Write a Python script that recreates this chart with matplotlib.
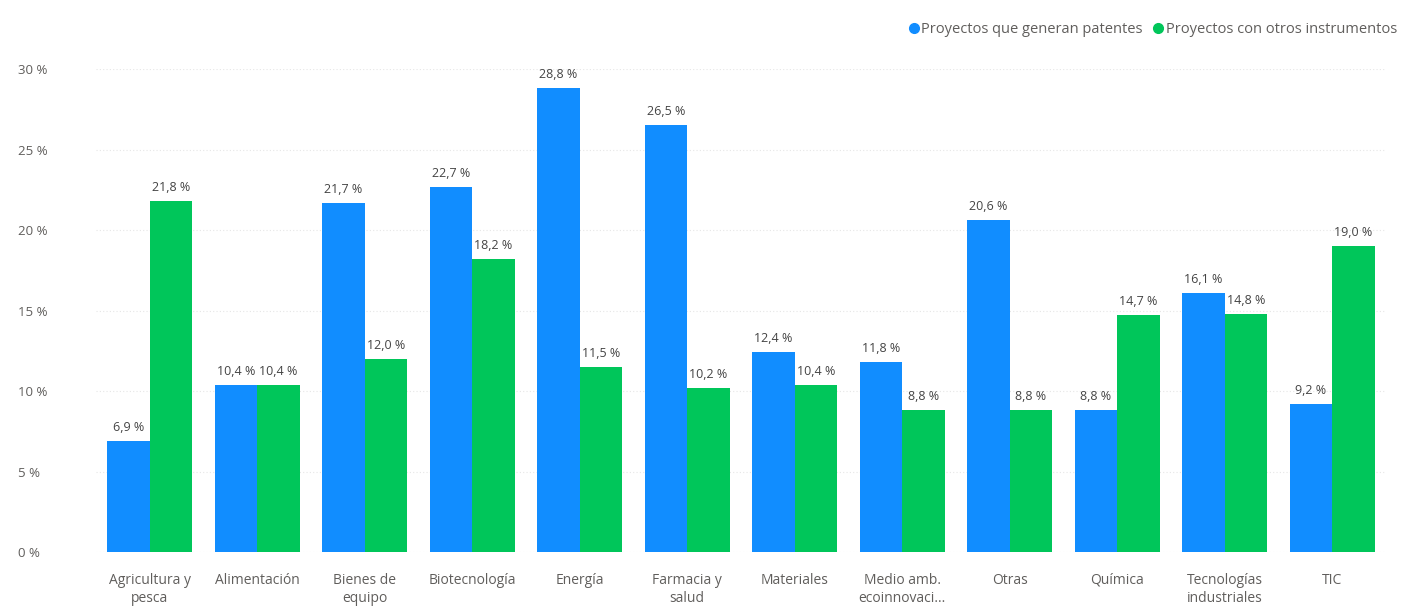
import matplotlib
matplotlib.use("Agg")
import matplotlib.pyplot as plt
import numpy as np
from matplotlib.lines import Line2D

categories = ["Agricultura y\npesca", "Alimentación", "Bienes de\nequipo", "Biotecnología",
              "Energía", "Farmacia y\nsalud", "Materiales", "Medio amb.\necoinnovaci...",
              "Otras", "Química", "Tecnologías\nindustriales", "TIC"]
patentes = [6.9, 10.4, 21.7, 22.7, 28.8, 26.5, 12.4, 11.8, 20.6, 8.8, 16.1, 9.2]
otros = [21.8, 10.4, 12.0, 18.2, 11.5, 10.2, 10.4, 8.8, 8.8, 14.7, 14.8, 19.0]
series_names = ["Proyectos que generan patentes", "Proyectos con otros instrumentos"]
yticks = [0, 5, 10, 15, 20, 25, 30]

blue = "#118DFF"
green = "#00C65A"
txt = "#605E5C"

plt.rcParams['font.family'] = ['Open Sans', 'DejaVu Sans']

fig = plt.figure(figsize=(14.1, 6.09), dpi=100)
ax = fig.add_axes([0.068, 0.0936, 0.915, 0.793])

x = np.arange(len(categories))
w = 0.395
b1 = ax.bar(x - w/2, patentes, width=w, color=blue, zorder=3)
b2 = ax.bar(x + w/2, otros, width=w, color=green, zorder=3)

def fmt(v):
    return f"{v:.1f}".replace(".", ",") + " %"

for bars, vals in ((b1, patentes), (b2, otros)):
    for r, v in zip(bars, vals):
        ax.annotate(fmt(v), (r.get_x() + r.get_width()/2, v), xytext=(0, 5),
                    textcoords="offset points", ha="center", va="bottom",
                    fontsize=9, color="#444444", clip_on=False)

ax.set_xlim(-0.5, len(categories) - 0.5)
ax.set_ylim(0, 30)
ax.set_yticks(yticks)
ax.set_yticklabels([f"{t} %" for t in yticks])
ax.set_xticks(x)
ax.set_xticklabels(categories, fontsize=10, color=txt, linespacing=1.3)
ax.tick_params(axis='y', labelsize=9.5, labelcolor=txt, length=0, pad=56)
ax.tick_params(axis='x', length=0, pad=15)
for lab in ax.get_yticklabels():
    lab.set_horizontalalignment('left')
ax.grid(axis='y', color="#E6E6E6", linestyle=(0, (1, 2)), linewidth=0.8, zorder=0)
for s in ax.spines.values():
    s.set_visible(False)

handles = [Line2D([0], [0], marker='o', color='none', markerfacecolor=c, markeredgecolor=c,
                  markersize=7) for c in (blue, green)]
fig.legend(handles, series_names, loc='upper right', bbox_to_anchor=(1.0, 0.985), ncol=2,
           frameon=False, fontsize=10.5, labelcolor=txt, handletextpad=0.0,
           columnspacing=0.6, handlelength=1.0)

fig.savefig("out.png", dpi=100, facecolor="white")
